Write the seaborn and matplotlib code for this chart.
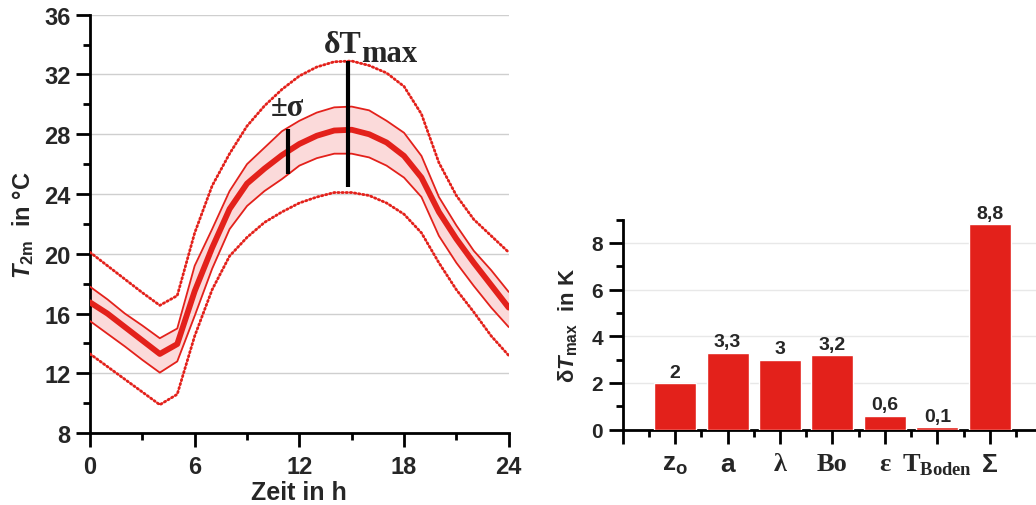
import numpy as np
import pandas as pd
import seaborn as sns
import matplotlib.pyplot as plt
from matplotlib.ticker import MultipleLocator

# Tagesgang der 2m-Temperatur
hours = np.arange(0, 25)
t_mean = [16.75, 16.0, 15.1, 14.2, 13.3, 13.96, 17.5, 20.4, 23.0, 24.7, 25.7, 26.6, 27.35,
          27.9, 28.25, 28.3, 28.0, 27.45, 26.55, 25.1, 22.8, 21.0, 19.4, 17.9, 16.4]
t_sig_hi = [17.8, 16.95, 16.0, 15.2, 14.35, 15.0, 19.2, 21.65, 24.2, 26.0, 27.1, 28.2, 28.9,
            29.45, 29.8, 29.85, 29.6, 28.9, 28.1, 26.55, 23.8, 21.9, 20.2, 18.9, 17.45]
t_sig_lo = [15.5, 14.65, 13.8, 12.9, 12.05, 12.8, 15.85, 19.0, 21.65, 23.2, 24.2, 25.0, 25.9,
            26.4, 26.7, 26.7, 26.45, 25.9, 25.1, 23.8, 21.2, 19.4, 17.85, 16.4, 15.1]
t_max_hi = [20.1, 19.2, 18.3, 17.4, 16.55, 17.2, 21.4, 24.55, 26.7, 28.55, 29.9, 31.0, 31.9,
            32.5, 32.85, 32.9, 32.6, 32.1, 31.2, 29.35, 26.1, 23.9, 22.3, 21.2, 20.1]
t_max_lo = [13.3, 12.45, 11.6, 10.75, 9.9, 10.6, 14.5, 17.6, 19.85, 21.1, 22.1, 22.8, 23.4,
            23.8, 24.1, 24.1, 23.9, 23.4, 22.65, 21.4, 19.4, 17.6, 16.1, 14.5, 13.2]

# annotation bars: (x, y_bottom, y_top)
sigma_bar = (11.35, 25.35, 28.35)
dtmax_bar = (14.8, 24.45, 32.9)

# Sensitivitaet dT_max
params = ["z$_\\mathregular{o}$", "a", "λ", "Bo", "ε", "T$_\\mathregular{Boden}$", "Σ"]
param_fonts = ["Liberation Sans", "Liberation Sans", "Liberation Serif", "Liberation Serif",
               "Liberation Serif", "Liberation Serif", "Liberation Sans"]
dt_max = [2.0, 3.3, 3.0, 3.2, 0.6, 0.1, 8.8]
dt_labels = ["2", "3,3", "3", "3,2", "0,6", "0,1", "8,8"]

RED = "#e3211b"
PINK = "#fbdada"

sns.set_theme(style="white")
plt.rcParams["font.family"] = ["Liberation Sans", "DejaVu Sans"]
plt.rcParams["font.weight"] = "bold"
plt.rcParams["mathtext.fontset"] = "custom"
plt.rcParams["mathtext.it"] = "Liberation Sans:italic:bold"
plt.rcParams["mathtext.rm"] = "Liberation Sans:bold"

fig = plt.figure(figsize=(10.36, 5.06), dpi=100)
ax1 = fig.add_axes([0.0869, 0.142, 0.4041, 0.827])
ax2 = fig.add_axes([0.601, 0.149, 0.399, 0.415])

df = pd.DataFrame({"h": hours, "mean": t_mean, "shi": t_sig_hi, "slo": t_sig_lo,
                   "mhi": t_max_hi, "mlo": t_max_lo})

ax1.fill_between(df["h"], df["slo"], df["shi"], color=PINK, lw=0, zorder=1)
for col in ["shi", "slo"]:
    sns.lineplot(data=df, x="h", y=col, ax=ax1, color=RED, lw=1.3, zorder=3)
for col in ["mhi", "mlo"]:
    sns.lineplot(data=df, x="h", y=col, ax=ax1, color=RED, lw=2.0, zorder=3,
                 linestyle=(0, (0.5, 1.0)), dash_capstyle="round")
sns.lineplot(data=df, x="h", y="mean", ax=ax1, color=RED, lw=4.2, zorder=4)

ax1.vlines(sigma_bar[0], sigma_bar[1], sigma_bar[2], color="black", lw=3, zorder=5)
ax1.vlines(dtmax_bar[0], dtmax_bar[1], dtmax_bar[2], color="black", lw=3, zorder=5)
ax1.text(sigma_bar[0] - 0.05, sigma_bar[2] + 0.45, "±σ", ha="center", va="bottom",
         fontsize=22, fontweight="bold", family="Liberation Serif")
ax1.text(13.4, 33.5, "δT", ha="left", va="baseline", fontsize=23, fontweight="bold",
         family="Liberation Serif")
ax1.text(15.55, 33.5 - 0.6, "max", ha="left", va="baseline", fontsize=22,
         fontweight="bold", family="Liberation Serif")

ax1.set_xlim(0, 24)
ax1.set_ylim(8, 36)
ax1.xaxis.set_major_locator(MultipleLocator(6))
ax1.xaxis.set_minor_locator(MultipleLocator(3))
ax1.yaxis.set_major_locator(MultipleLocator(4))
ax1.yaxis.set_minor_locator(MultipleLocator(2))
ax1.grid(axis="y", which="major", color="#cfcfcf", lw=1, zorder=0)
ax1.set_xlabel("Zeit in h", fontsize=18, fontweight="bold", labelpad=1)
ax1.set_ylabel("$T_{\\mathregular{2m}}$  in °C", fontsize=17, fontweight="bold", labelpad=6)

# bar chart
sns.barplot(x=params, y=dt_max, ax=ax2, color=RED, saturation=1, width=0.8, zorder=3)
for i, (v, lab) in enumerate(zip(dt_max, dt_labels)):
    ax2.text(i, v + 0.1, lab, ha="center", va="bottom", fontsize=14, fontweight="bold")
ax2.set_xlim(-1, 6.88)
ax2.set_ylim(0, 9)
ax2.set_xticks(np.arange(-1, 7))
ax2.set_xticklabels([""] + params)
ax2.xaxis.set_minor_locator(MultipleLocator(0.5))
ax2.yaxis.set_major_locator(MultipleLocator(2))
ax2.yaxis.set_minor_locator(MultipleLocator(1))
ax2.grid(axis="y", which="major", color="#e8e8e8", lw=1, zorder=0)
ax2.set_ylabel("δ$T_{\\mathregular{max}}$  in K", fontsize=16, fontweight="bold", labelpad=8)

for ax, fs in [(ax1, 17), (ax2, 15)]:
    for s in ["top", "right"]:
        ax.spines[s].set_visible(False)
    for s in ["left", "bottom"]:
        ax.spines[s].set_color("black")
        ax.spines[s].set_linewidth(2)
    ax.tick_params(which="major", direction="out", length=10, width=2, color="black",
                   labelsize=fs, pad=4, bottom=True, left=True)
    ax.tick_params(which="minor", direction="out", length=5, width=2, color="black",
                   bottom=True, left=True)
    for lab in ax.get_yticklabels():
        lab.set_fontweight("bold")
ax1.tick_params(axis="x", which="major", pad=6)
ax2.tick_params(axis="x", which="major", pad=6)
for lab in ax1.get_xticklabels():
    lab.set_fontweight("bold")
for lab, fam in zip(ax2.get_xticklabels()[1:], param_fonts):
    lab.set_fontfamily(fam)
    lab.set_fontsize(19)
    lab.set_fontweight("bold")

fig.savefig("out.png", dpi=100)
